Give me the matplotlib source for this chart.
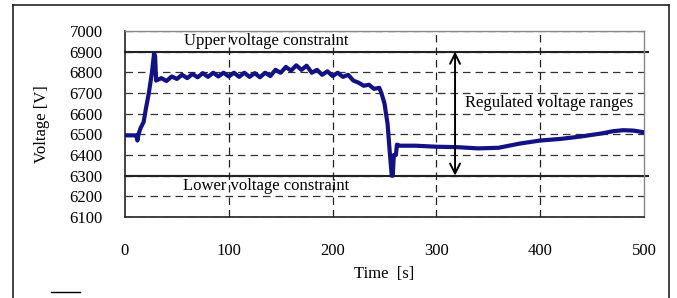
import matplotlib.pyplot as plt
from matplotlib.lines import Line2D

plt.rcParams['font.family'] = ['Liberation Serif', 'DejaVu Serif']

# voltage trace
time_s = [0, 10, 11, 12, 13, 15, 18, 20, 23, 26, 28, 29, 30,
          35, 40, 45, 50, 55, 60, 65, 70, 75, 80, 85, 90, 95, 100,
          105, 110, 115, 120, 125, 130, 135, 140, 145, 150, 155, 160,
          165, 170, 175, 180, 185, 190, 195, 200, 205, 210, 215, 220,
          225, 230, 235, 240, 245, 247, 250, 253, 255, 257, 258, 259,
          261, 262, 265, 270, 280, 300, 320, 340, 360, 370, 380, 400,
          420, 440, 460, 470, 480, 490, 500]
voltage = [6495, 6495, 6495, 6470, 6500, 6530, 6560, 6620, 6700, 6800, 6890, 6880, 6760,
           6772, 6758, 6780, 6768, 6788, 6772, 6792, 6776, 6796, 6778, 6798, 6780, 6798, 6780,
           6798, 6778, 6798, 6778, 6796, 6776, 6798, 6782, 6812, 6798, 6826, 6808,
           6834, 6812, 6832, 6798, 6812, 6788, 6805, 6782, 6798, 6778, 6788, 6760,
           6750, 6735, 6740, 6720, 6725, 6700, 6650, 6550, 6420, 6300, 6300, 6400,
           6400, 6450, 6445, 6445, 6445, 6440, 6438, 6432, 6435, 6445, 6455, 6470,
           6478, 6490, 6505, 6515, 6520, 6518, 6510]

upper_limit = 6900
lower_limit = 6300
arrow_t = 318
y_ticks = [6100, 6200, 6300, 6400, 6500, 6600, 6700, 6800, 6900, 7000]
x_ticks = [0, 100, 200, 300, 400, 500]

fig = plt.figure(figsize=(6.77, 2.98), dpi=100)
ax = fig.add_axes([0.1846, 0.2718, 0.7666, 0.6242])

for y in y_ticks:
    ax.axhline(y, color='#333333', lw=0.9, ls=(0, (6, 4)), zorder=1)
for x in x_ticks[1:-1]:
    ax.axvline(x, color='#222222', lw=0.9, ls=(0, (6, 4)), zorder=1)

ax.plot([0, 504], [upper_limit, upper_limit], color='#222222', lw=1.5, clip_on=False, zorder=2)
ax.plot([0, 504], [lower_limit, lower_limit], color='#222222', lw=1.5, clip_on=False, zorder=2)

ax.plot(time_s, voltage, color='#121285', lw=3.0, zorder=3)

ax.annotate('', xy=(arrow_t, upper_limit), xytext=(arrow_t, lower_limit),
            arrowprops=dict(arrowstyle='<->', color='black', lw=1.4,
                            mutation_scale=18, shrinkA=0, shrinkB=0), zorder=4)

ax.text(136, 6950, 'Upper voltage constraint', ha='center', va='center', fontsize=12)
ax.text(136, 6250, 'Lower voltage constraint', ha='center', va='center', fontsize=12)
ax.text(328, 6652, 'Regulated voltage ranges', ha='left', va='center', fontsize=12)

ax.set_xlim(0, 500)
ax.set_ylim(6100, 7000)
ax.set_xticks(x_ticks)
ax.set_yticks(y_ticks)
ax.tick_params(length=0, labelsize=12)
ax.tick_params(axis='y', pad=16)
ax.tick_params(axis='x', pad=19)
for s in ['left', 'bottom']:
    ax.spines[s].set_color('#222222')
    ax.spines[s].set_linewidth(1.2)
for s in ['top', 'right']:
    ax.spines[s].set_color('#888888')
    ax.spines[s].set_linewidth(1.0)

ax.set_xlabel('Time  [s]', fontsize=12, labelpad=5)
ax.set_ylabel('Voltage [V]', fontsize=12, labelpad=14)

# outer frame and the stray legend stub at the bottom left
fig.add_artist(Line2D([13 / 677, 13 / 677], [0, 1 - 5 / 298], color='#222222', lw=1.2))
fig.add_artist(Line2D([13 / 677, 669 / 677], [1 - 5 / 298, 1 - 5 / 298], color='#222222', lw=1.2))
fig.add_artist(Line2D([669 / 677, 669 / 677], [0, 1 - 5 / 298], color='#222222', lw=1.2))
fig.add_artist(Line2D([51 / 677, 80 / 677], [1 - 292 / 298, 1 - 292 / 298], color='black', lw=1.0))

fig.savefig('out.png', dpi=100)
